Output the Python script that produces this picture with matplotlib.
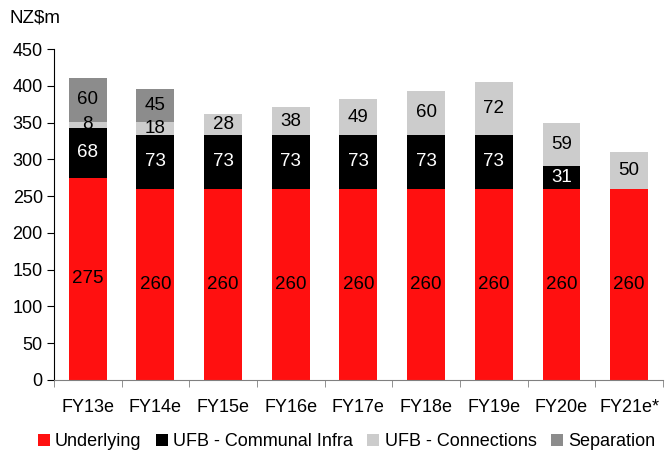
import numpy as np
import matplotlib.pyplot as plt

plt.rcParams['font.family'] = ['Liberation Sans', 'DejaVu Sans']

# ── Data ────────────────────────────────────────────────────────────────
YEARS = ["FY13e", "FY14e", "FY15e", "FY16e", "FY17e", "FY18e", "FY19e", "FY20e", "FY21e*"]
UNDERLYING = [275, 260, 260, 260, 260, 260, 260, 260, 260]
COMMUNAL = [68, 73, 73, 73, 73, 73, 73, 31, 0]
CONNECTIONS = [8, 18, 28, 38, 49, 60, 72, 59, 50]
SEPARATION = [60, 45, 0, 0, 0, 0, 0, 0, 0]

SERIES = [
    ("Underlying", UNDERLYING, "#FF1010", "black"),
    ("UFB - Communal Infra", COMMUNAL, "black", "white"),
    ("UFB - Connections", CONNECTIONS, "#CCCCCC", "black"),
    ("Separation", SEPARATION, "#8C8C8C", "black"),
]

fig = plt.figure(figsize=(6.65, 4.5), dpi=100)
ax = fig.add_axes([0.081, 0.156, 0.916, 0.735])

x = np.arange(len(YEARS))
bottom = np.zeros(len(YEARS))
for name, vals, color, txt in SERIES:
    vals = np.array(vals, dtype=float)
    ax.bar(x, vals, 0.56, bottom=bottom, color=color, label=name)
    for xi, b, v in zip(x, bottom, vals):
        if v > 0:
            ax.text(xi, b + v / 2, f"{v:.0f}", ha='center', va='center',
                    fontsize=13.5, color=txt)
    bottom += vals

ax.set_xlim(-0.5, len(YEARS) - 0.5)
ax.set_ylim(0, 450)
ax.set_yticks(range(0, 451, 50))
ax.set_xticks(x)
ax.set_xticklabels(YEARS)
ax.set_xticks(np.arange(-0.5, len(YEARS), 1.0), minor=True)
ax.tick_params(axis='x', which='major', length=0, pad=14, labelsize=13)
ax.tick_params(axis='x', which='minor', length=5, color='#808080')
ax.tick_params(axis='y', length=5, labelsize=13, pad=3)

ax.spines['top'].set_visible(False)
ax.spines['right'].set_visible(False)
ax.spines['bottom'].set_color('#808080')

fig.text(0.015, 0.96, "NZ$m", fontsize=13.5, va='center', ha='left')

fig.legend(loc='center', bbox_to_anchor=(0.521, 0.018), ncol=4, frameon=False,
           fontsize=13, handlelength=0.65, handleheight=0.65, handletextpad=0.3,
           columnspacing=0.8, borderpad=0)

fig.savefig("out.png", dpi=100)
